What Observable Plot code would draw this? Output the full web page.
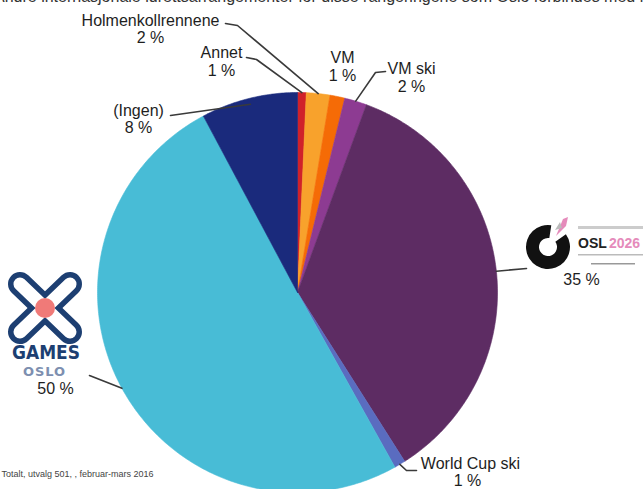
<!DOCTYPE html>
<html><head><meta charset="utf-8">
<script src="https://cdn.jsdelivr.net/npm/d3@7"></script>
<script src="https://cdn.jsdelivr.net/npm/@observablehq/plot@0.6"></script>
<style>
html,body{margin:0;padding:0;background:#fff;}
body{overflow:hidden;width:643px;height:489px;position:relative;font-family:"Liberation Sans",Arial,sans-serif;}
#chart{position:absolute;left:0;top:0;}
#title{position:absolute;left:-6px;top:-12px;white-space:nowrap;font-size:16px;line-height:18px;color:#333;}
</style></head><body>
<div id="chart"></div>
<div id="title">Andre internasjonale idrettsarrangementer for disse rangeringene som Oslo forbindes med i dag og framover</div>
<script>
// ---- data ----
const categories = ["Annet", "Holmenkollrennene", "VM", "VM ski", "OSL2026", "World Cup ski", "X Games", "(Ingen)"];
const shares = [0.7, 1.9, 1.2, 1.8, 35.4, 0.9, 50.3, 7.8];
const pctLabels = ["1 %", "2 %", "1 %", "2 %", "35 %", "1 %", "50 %", "8 %"];
const nameLabels = ["Annet", "Holmenkollrennene", "VM", "VM ski", "", "World Cup ski", "", "(Ingen)"];
const colors = ["#d0212a", "#f8a22c", "#f56b06", "#8d3b92", "#5d2c63", "#5a6cc0", "#48bcd6", "#1a2a7c"];
const sourceNote = "Totalt, utvalg 501, , februar-mars 2016";

// ---- layout (pixels) ----
const W = 643, H = 489, CX = 297, CY = 292, R = 200;
const labelLayout = [
  {name: [221, 52], pct: [221, 70], line: [[246, 57], [256, 59]]},
  {name: [150, 20], pct: [150, 37], line: [[225, 23], [237, 25]]},
  {name: [342, 57], pct: [342, 75], line: null},
  {name: [411, 68], pct: [411, 86], line: [[385, 71], [375, 72]]},
  {name: null,      pct: [581, 279], line: [[526, 268]]},
  {name: [470, 463], pct: [467, 480], line: [[416, 470], [406, 470]]},
  {name: null,      pct: [55, 388], line: [[89, 375]]},
  {name: [138, 110], pct: [138, 127], line: [[170, 115]]}
];

const toX = px => (px - CX) / R;
const toY = py => (CY - py) / R;

// pie geometry from data
const arcs = d3.pie().sort(null).startAngle(0).endAngle(2 * Math.PI)(shares);
const slicePts = [];
arcs.forEach((a, i) => {
  slicePts.push({k: categories[i], x: 0, y: 0});
  const n = Math.max(4, Math.ceil((a.endAngle - a.startAngle) / 0.01));
  for (let j = 0; j <= n; j++) {
    const t = a.startAngle + (a.endAngle - a.startAngle) * j / n;
    slicePts.push({k: categories[i], x: Math.sin(t), y: Math.cos(t)});
  }
  slicePts.push({k: categories[i], x: 0, y: 0});
});

const leaderPts = [];
arcs.forEach((a, i) => {
  const L = labelLayout[i];
  if (!L.line) return;
  L.line.forEach(p => leaderPts.push({k: categories[i], x: toX(p[0]), y: toY(p[1])}));
  const m = (a.startAngle + a.endAngle) / 2;
  const rr = categories[i] === "(Ingen)" ? 0.97 : 1.0;
  leaderPts.push({k: categories[i], x: rr * Math.sin(m), y: rr * Math.cos(m)});
});

const names = categories.map((c, i) => ({t: nameLabels[i], p: labelLayout[i].name})).filter(d => d.p && d.t);
const pcts = categories.map((c, i) => ({t: pctLabels[i], p: labelLayout[i].pct}));

const plot = Plot.plot({
  width: W, height: H,
  margin: 0,
  x: {domain: [toX(0), toX(W)], axis: null},
  y: {domain: [toY(H), toY(0)], axis: null},
  color: {domain: categories, range: colors},
  style: {background: "transparent", fontFamily: "Liberation Sans, Arial, sans-serif"},
  marks: [
    Plot.line(slicePts, {x: "x", y: "y", z: "k", fill: "k", stroke: "k", strokeWidth: 0.6, curve: "linear"}),
    Plot.line(leaderPts, {x: "x", y: "y", z: "k", stroke: "#3a3a3a", strokeWidth: 1.6, curve: "linear"}),
    Plot.text(names, {x: d => toX(d.p[0]), y: d => toY(d.p[1]), text: "t", fontSize: 16, fill: "#1e1e1e"}),
    Plot.text(pcts, {x: d => toX(d.p[0]), y: d => toY(d.p[1]), text: "t", fontSize: 16, fill: "#1e1e1e"}),
    Plot.text([sourceNote], {x: toX(1), y: toY(474), text: d => d, textAnchor: "start", fontSize: 9, fill: "#444"})
  ]
});
document.getElementById("chart").appendChild(plot);

// ---- logos (decoration) ----
const svg = d3.select(plot);
// X Games logo
const xg = svg.append("g");
const arms = [[[20, 284], [70, 332]], [[70, 284], [20, 332]]];
arms.forEach(a => xg.append("line").attr("x1", a[0][0]).attr("y1", a[0][1]).attr("x2", a[1][0]).attr("y2", a[1][1])
  .attr("stroke", "#1d3f72").attr("stroke-width", 24).attr("stroke-linecap", "round"));
arms.forEach(a => xg.append("line").attr("x1", a[0][0]).attr("y1", a[0][1]).attr("x2", a[1][0]).attr("y2", a[1][1])
  .attr("stroke", "#fff").attr("stroke-width", 13).attr("stroke-linecap", "round"));
xg.append("circle").attr("cx", 45).attr("cy", 308).attr("r", 10).attr("fill", "#f07a78");
xg.append("text").attr("x", 46).attr("y", 359).attr("text-anchor", "middle").attr("font-size", 19).attr("font-weight", "bold")
  .attr("textLength", 68).attr("lengthAdjust", "spacingAndGlyphs").attr("fill", "#1d3f72").attr("font-family", "DejaVu Sans, sans-serif").text("GAMES");
xg.append("text").attr("x", 44).attr("y", 376).attr("text-anchor", "middle").attr("font-size", 13).attr("font-weight", "bold")
  .attr("textLength", 42).attr("fill", "#7d8fb0").attr("font-family", "DejaVu Sans, sans-serif").text("OSLO");

// OSL2026 logo
const og = svg.append("g");
og.append("path").attr("transform", "translate(548,247)")
  .attr("d", d3.arc().innerRadius(9).outerRadius(22).startAngle(0.95).endAngle(2 * Math.PI + 0.15)())
  .attr("fill", "#111");
og.append("path").attr("d", "M556,236 L563,219 L568,217 L566,226 Z").attr("fill", "#e58bbb");
og.append("path").attr("d", "M555,230 L560,222 L562,228 Z").attr("fill", "#bbb");
og.append("rect").attr("x", 578).attr("y", 226).attr("width", 70).attr("height", 3).attr("fill", "#ccc");
og.append("rect").attr("x", 578).attr("y", 254).attr("width", 70).attr("height", 1.5).attr("fill", "#bbb");
og.append("rect").attr("x", 591).attr("y", 263).attr("width", 44).attr("height", 1.5).attr("fill", "#999");
og.append("text").attr("x", 578).attr("y", 248).attr("font-size", 14).attr("font-weight", "bold")
  .attr("text-anchor", "start").attr("font-family", "Liberation Sans, Arial, sans-serif").attr("fill", "#222").text("OSL");
og.append("text").attr("x", 609).attr("y", 248).attr("font-size", 14).attr("font-weight", "bold")
  .attr("text-anchor", "start").attr("font-family", "Liberation Sans, Arial, sans-serif").attr("fill", "#e58bbb").text("2026");
</script>
</body></html>
